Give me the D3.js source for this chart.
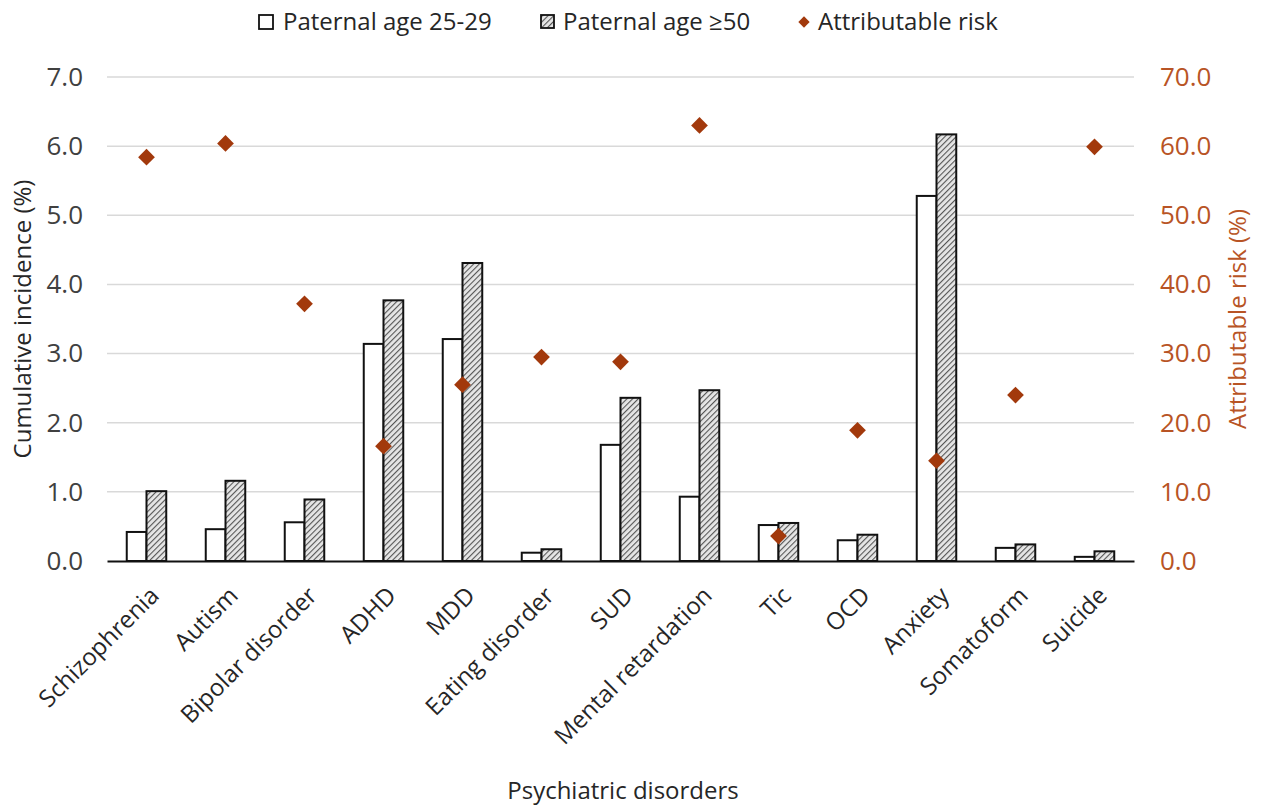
<!DOCTYPE html>
<html>
<head>
<meta charset="utf-8">
<script src="https://cdn.jsdelivr.net/npm/d3@7"></script>
<style>
  html, body { margin: 0; padding: 0; background: #fff; }
  svg { display: block; font-family: "Open Sans", "Noto Sans", sans-serif; }
</style>
</head>
<body>
<svg id="chart" width="1262" height="808"></svg>
<script>
const categories = ["Schizophrenia", "Autism", "Bipolar disorder", "ADHD", "MDD", "Eating disorder", "SUD", "Mental retardation", "Tic", "OCD", "Anxiety", "Somatoform", "Suicide"];
const paternal2529 = [0.42, 0.46, 0.56, 3.14, 3.21, 0.12, 1.68, 0.93, 0.52, 0.30, 5.28, 0.19, 0.06];
const paternal50 = [1.01, 1.16, 0.89, 3.77, 4.31, 0.17, 2.36, 2.47, 0.55, 0.38, 6.17, 0.24, 0.14];
const attributableRisk = [58.4, 60.4, 37.2, 16.6, 25.5, 29.5, 28.8, 63.0, 3.6, 18.9, 14.5, 24.0, 59.9];
const leftTicks = [0, 1, 2, 3, 4, 5, 6, 7];
const rightTicks = [0, 10, 20, 30, 40, 50, 60, 70];
const seriesNames = ["Paternal age 25-29", "Paternal age \u226550", "Attributable risk"];

const svg = d3.select("#chart");
const L = 107, R = 1134, T = 77, B = 561;
const orange = "#b85425";
const diamondColor = "#a2390c";
const textColor = "#262626";

// hatch pattern
const defs = svg.append("defs");
const pat = defs.append("pattern")
  .attr("id", "hatch").attr("patternUnits", "userSpaceOnUse")
  .attr("width", 4).attr("height", 4)
  .attr("patternTransform", "rotate(45)");
pat.append("rect").attr("width", 4).attr("height", 4).attr("fill", "#e6e6e6");
pat.append("line").attr("x1", 0).attr("y1", 0).attr("x2", 0).attr("y2", 4)
  .attr("stroke", "#555").attr("stroke-width", 2.2);

const x = d3.scaleBand().domain(categories).range([L, R]).paddingInner(0.5).paddingOuter(0.25);
const x1 = d3.scaleBand().domain([0, 1]).range([0, x.bandwidth()]);
const y = d3.scaleLinear().domain([0, 7]).range([B, T]);
const y2 = d3.scaleLinear().domain([0, 70]).range([B, T]);

// gridlines
svg.append("g").selectAll("line").data(leftTicks.filter(d => d > 0)).join("line")
  .attr("x1", L).attr("x2", R)
  .attr("y1", d => y(d)).attr("y2", d => y(d))
  .attr("stroke", "#d9d9d9").attr("stroke-width", 1.5);

// left axis
const gl = svg.append("g").attr("transform", `translate(${L},0)`)
  .call(d3.axisLeft(y).tickValues(leftTicks).tickFormat(d3.format(".1f")).tickSize(0).tickPadding(24));
gl.select(".domain").remove();
gl.selectAll("text").attr("font-size", 26).attr("fill", "#404040").attr("font-family", "Open Sans");

// right axis
const gr = svg.append("g").attr("transform", `translate(${R},0)`)
  .call(d3.axisRight(y2).tickValues(rightTicks).tickFormat(d3.format(".1f")).tickSize(0).tickPadding(26));
gr.select(".domain").remove();
gr.selectAll("text").attr("font-size", 26).attr("fill", orange).attr("font-family", "Open Sans");

// bars
const groups = svg.append("g").selectAll("g").data(categories).join("g")
  .attr("transform", d => `translate(${x(d)},0)`);
groups.append("rect")
  .attr("x", x1(0)).attr("width", x1.bandwidth())
  .attr("y", (d, i) => y(paternal2529[i]))
  .attr("height", (d, i) => y(0) - y(paternal2529[i]))
  .attr("fill", "#fff").attr("stroke", "#111").attr("stroke-width", 2);
groups.append("rect")
  .attr("x", x1(1)).attr("width", x1.bandwidth())
  .attr("y", (d, i) => y(paternal50[i]))
  .attr("height", (d, i) => y(0) - y(paternal50[i]))
  .attr("fill", "url(#hatch)").attr("stroke", "#111").attr("stroke-width", 2);

// x axis
const gx = svg.append("g").attr("transform", `translate(0,${B})`)
  .call(d3.axisBottom(x).tickSize(0).tickPadding(0));
gx.select(".domain").attr("stroke", "#111").attr("stroke-width", 2);
gx.selectAll("text")
  .attr("font-size", 24).attr("fill", textColor).attr("font-family", "Open Sans")
  .attr("text-anchor", "end")
  .attr("dy", 0).attr("y", 0).attr("x", 0)
  .attr("transform", "translate(14,36) rotate(-45)");

// diamonds
const diamond = d3.symbol().type(d3.symbolSquare).size(140);
svg.append("g").selectAll("path").data(categories).join("path")
  .attr("d", diamond)
  .attr("transform", (d, i) => `translate(${x(d) + x.bandwidth() / 2},${y2(attributableRisk[i])}) rotate(45)`)
  .attr("fill", diamondColor);

// axis titles
svg.append("text").attr("transform", `translate(31,${(T + B) / 2}) rotate(-90)`)
  .attr("text-anchor", "middle").attr("font-size", 24).attr("fill", textColor)
  .text("Cumulative incidence (%)");
svg.append("text").attr("transform", `translate(1246,${(T + B) / 2}) rotate(-90)`)
  .attr("text-anchor", "middle").attr("font-size", 24).attr("fill", orange)
  .text("Attributable risk (%)");
svg.append("text").attr("x", 623).attr("y", 799)
  .attr("text-anchor", "middle").attr("font-size", 24).attr("fill", textColor)
  .text("Psychiatric disorders");

// legend
const lg = svg.append("g");
const legendX = [259, 541, 797];
seriesNames.forEach((name, i) => {
  const g = lg.append("g").attr("transform", `translate(${legendX[i]},22)`);
  if (i === 0) {
    g.append("rect").attr("x", 0).attr("y", -7).attr("width", 14).attr("height", 14)
      .attr("fill", "#fff").attr("stroke", "#111").attr("stroke-width", 1.8);
  } else if (i === 1) {
    g.append("rect").attr("x", 0).attr("y", -7).attr("width", 13).attr("height", 13)
      .attr("fill", "url(#hatch)").attr("stroke", "#111").attr("stroke-width", 1.8);
  } else {
    g.append("path").attr("d", d3.symbol().type(d3.symbolSquare).size(64))
      .attr("transform", "translate(7,0) rotate(45)").attr("fill", diamondColor);
  }
  g.append("text").attr("x", i === 0 ? 24 : (i === 1 ? 22 : 21)).attr("y", 0).attr("dy", "0.35em")
    .attr("font-size", 24).attr("fill", textColor).text(name);
});
</script>
</body>
</html>
